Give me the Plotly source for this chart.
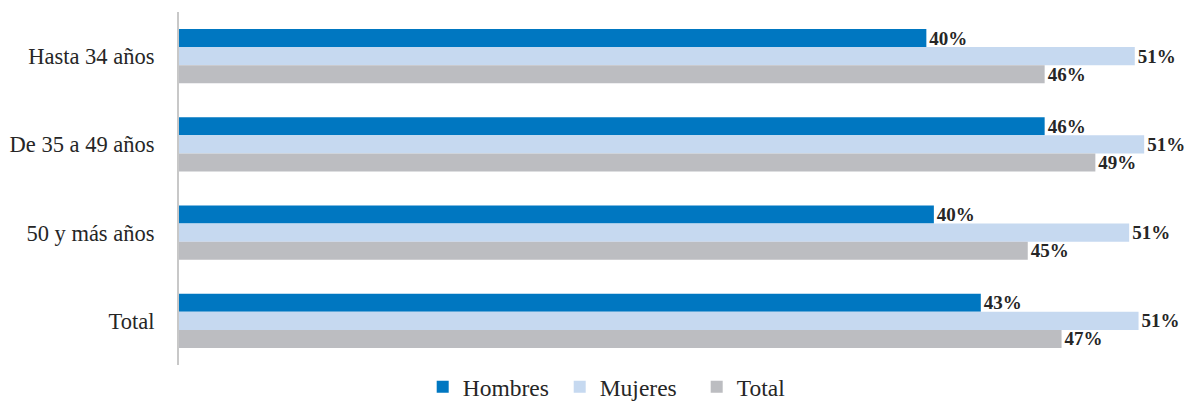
import plotly.graph_objects as go

categories = ["Hasta 34 años", "De 35 a 49 años", "50 y más años", "Total"]
hombres = [39.8, 46.1, 40.2, 42.7]
mujeres = [50.9, 51.4, 50.6, 51.1]
total = [46.1, 48.8, 45.2, 47.0]

series = [
    ("Hombres", hombres, "#0077C1"),
    ("Mujeres", mujeres, "#C6D9F0"),
    ("Total", total, "#BCBDC1"),
]

SERIF = "Liberation Serif, serif"

fig = go.Figure()
for name, vals, color in series:
    fig.add_trace(go.Bar(
        y=categories, x=vals, name=name, orientation="h",
        marker=dict(color=color, line=dict(width=0)),
        texttemplate="%{x:.0f}%", textposition="outside",
        constraintext="none",
        textfont=dict(family=SERIF, size=19, color="#262626", weight="bold"),
        cliponaxis=False,
    ))

# page has an 8px body margin, so the figure is 8px smaller than the window
fig.update_layout(
    width=1185, height=393,
    margin=dict(l=171, r=0, t=4, b=36, autoexpand=False),
    paper_bgcolor="white", plot_bgcolor="white",
    barmode="group", bargap=0.385, bargroupgap=0,
    font=dict(family=SERIF, color="#262626"),
    showlegend=True,
    legend=dict(orientation="h", x=0.443, xanchor="center", y=-0.062, yanchor="middle",
                font=dict(size=23.5, family=SERIF, color="#262626"),
                itemwidth=30, entrywidth=92, traceorder="normal"),
    xaxis=dict(range=[0, 54], showticklabels=False, showgrid=False, zeroline=False,
               showline=False, fixedrange=True, automargin=False),
    yaxis=dict(autorange="reversed", showline=True, linecolor="#C8C8C8", linewidth=2,
               ticks="", tickfont=dict(size=22.5, family=SERIF, color="#262626"),
               ticklabelstandoff=18, showgrid=False, automargin=False),
)

fig.write_html("out.html")
